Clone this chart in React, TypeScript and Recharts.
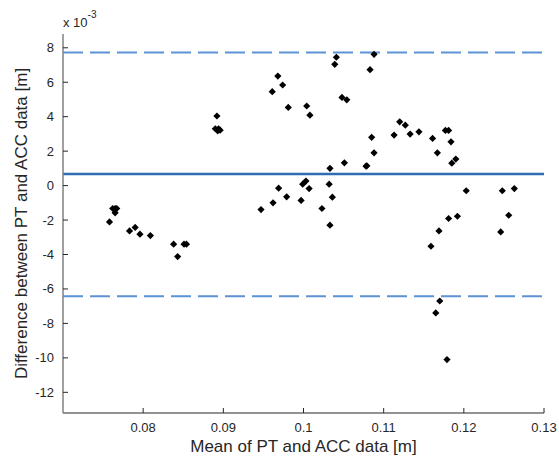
import React from "react";
import { ScatterChart, Scatter, XAxis, YAxis, ReferenceLine } from "recharts";

// mean of the two methods [m]
const meanValues = [
  0.0758, 0.0762, 0.0765, 0.0767, 0.0765, 0.0783, 0.0790, 0.0796, 0.0809, 0.0838,
  0.0843, 0.0851, 0.0854, 0.0892, 0.0890, 0.0893, 0.0896, 0.0894, 0.0947, 0.0962,
  0.0969, 0.0979, 0.0961, 0.0968, 0.0974, 0.0981, 0.0997, 0.0999, 0.1003, 0.1007,
  0.1004, 0.1008, 0.1023, 0.1032, 0.1033, 0.1036, 0.1033, 0.1039, 0.1041, 0.1048,
  0.1054, 0.1051, 0.1078, 0.1079, 0.1083, 0.1088, 0.1085, 0.1088, 0.1113, 0.1120,
  0.1127, 0.1133, 0.1144, 0.1161, 0.1167, 0.1177, 0.1181, 0.1184, 0.1185, 0.1190,
  0.1203, 0.1248, 0.1263, 0.1181, 0.1192, 0.1169, 0.1256, 0.1246, 0.1159, 0.1170,
  0.1165, 0.1179,
];

// difference between the two methods [x 10^-3 m]
const diffValues = [
  -2.11, -1.33, -1.33, -1.33, -1.58, -2.63, -2.43, -2.82, -2.9, -3.4,
  -4.12, -3.4, -3.4, 4.04, 3.3, 3.18, 3.22, 3.3, -1.39, -1.0,
  -0.15, -0.65, 5.45, 6.36, 5.84, 4.54, -0.86, 0.08, 0.26, -0.17,
  4.62, 4.09, -1.33, 0.08, 1.0, -0.67, -2.3, 7.04, 7.45, 5.12,
  4.98, 1.32, 1.13, 1.15, 6.73, 7.62, 2.8, 1.9, 2.93, 3.7,
  3.51, 2.99, 3.12, 2.74, 1.9, 3.2, 3.2, 2.54, 1.3, 1.54,
  -0.3, -0.3, -0.17, -1.91, -1.78, -2.63, -1.72, -2.69, -3.52, -6.7,
  -7.39, -10.1,
];

const meanDiff = 0.68;
const upperLimit = 7.72;
const lowerLimit = -6.42;

const xTicks = [0.08, 0.09, 0.1, 0.11, 0.12, 0.13];
const yTicks = [-12, -10, -8, -6, -4, -2, 0, 2, 4, 6, 8];

const points = meanValues.map((m, i) => ({ mean: m, diff: diffValues[i] }));

const font = "'Liberation Sans', Arial, sans-serif";
const textColor = "#262626";

function XTick({ x, y, payload }: any) {
  return (
    <g>
      <line x1={x} x2={x} y1={y} y2={y - 5} stroke={textColor} />
      <text x={x} y={y + 19} textAnchor="middle" fontSize={13} fontFamily={font} fill={textColor}>
        {String(payload.value)}
      </text>
    </g>
  );
}

function YTick({ x, y, payload }: any) {
  return (
    <g>
      <line x1={x} x2={x + 5} y1={y} y2={y} stroke={textColor} />
      <text x={x - 9} y={y + 4.5} textAnchor="end" fontSize={13} fontFamily={font} fill={textColor}>
        {String(payload.value)}
      </text>
    </g>
  );
}

function Marker({ cx, cy }: any) {
  const r = 3.6;
  return (
    <polygon
      points={`${cx},${cy - r} ${cx + r},${cy} ${cx},${cy + r} ${cx - r},${cy}`}
      fill="#000"
    />
  );
}

export default function App() {
  return (
    <div style={{ position: "absolute", left: 0, top: 0, width: 559, height: 457, background: "#fff" }}>
      <ScatterChart width={559} height={457} margin={{ top: 34, right: 15, left: 0, bottom: 0 }}>
        <XAxis
          type="number"
          dataKey="mean"
          domain={[0.07, 0.13]}
          ticks={xTicks}
          allowDataOverflow
          height={44}
          tickSize={0}
          tickMargin={0}
          tickLine={false}
          axisLine={{ stroke: textColor }}
          tick={<XTick />}
        />
        <YAxis
          type="number"
          dataKey="diff"
          domain={[-13.2, 8.8]}
          ticks={yTicks}
          allowDataOverflow
          width={63}
          tickSize={0}
          tickMargin={0}
          tickLine={false}
          axisLine={{ stroke: "#808080", strokeWidth: 1.5 }}
          tick={<YTick />}
        />
        <ReferenceLine y={upperLimit} stroke="#5b93d3" strokeWidth={2} strokeDasharray="20 7" />
        <ReferenceLine y={lowerLimit} stroke="#5b93d3" strokeWidth={2} strokeDasharray="20 7" />
        <ReferenceLine y={meanDiff} stroke="#2e6db4" strokeWidth={2.5} />
        <Scatter data={points} fill="#000" shape={<Marker />} isAnimationActive={false} />
      </ScatterChart>
      <svg
        width={559}
        height={457}
        style={{ position: "absolute", left: 0, top: 0, pointerEvents: "none" }}
      >
        <text x={63} y={27} fontSize={13} fontFamily={font} fill={textColor}>
          x 10
          <tspan dy={-9} fontSize={10}>-3</tspan>
        </text>
        <text
          x={303.5}
          y={452}
          textAnchor="middle"
          fontSize={17}
          fontFamily={font}
          fill={textColor}
        >
          Mean of PT and ACC data [m]
        </text>
        <text
          transform="translate(27 223.5) rotate(-90)"
          textAnchor="middle"
          fontSize={17}
          fontFamily={font}
          fill={textColor}
        >
          Difference between PT and ACC data [m]
        </text>
      </svg>
    </div>
  );
}
